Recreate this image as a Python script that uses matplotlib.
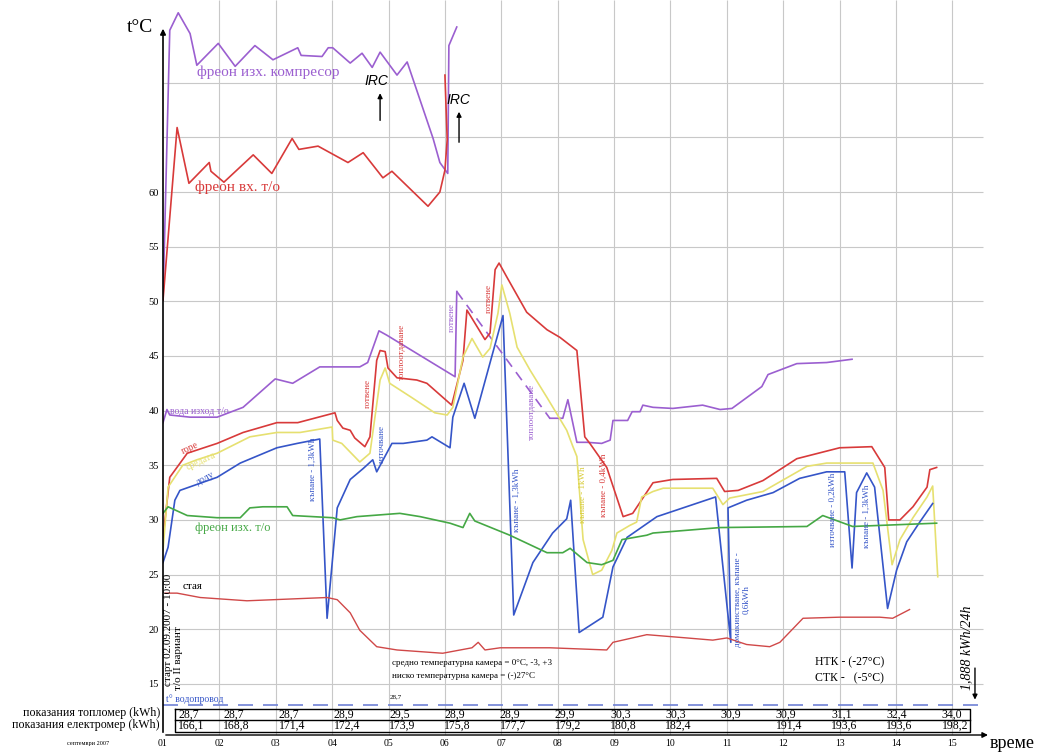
import numpy as np
import matplotlib.pyplot as plt

plt.rcParams['font.family'] = ['Liberation Serif', 'DejaVu Serif']

# --- data (x = day of September, y = t°C) ---
days = list(range(1, 16))
day_labels = ['%02d' % d for d in days]

comp_x = [1.0, 1.12, 1.27, 1.48, 1.60, 1.98, 2.28, 2.63, 2.95, 3.39, 3.45, 3.82, 3.93, 4.01,
          4.32, 4.53, 4.71, 4.85, 5.15, 5.33, 5.79, 5.91, 6.05, 6.07, 6.21]
comp_y = [50.1, 74.8, 76.4, 74.5, 71.6, 73.6, 71.5, 73.4, 72.1, 73.2, 72.5, 72.4, 73.2, 73.2,
          71.8, 72.7, 71.4, 72.8, 70.7, 71.9, 64.9, 62.7, 61.7, 73.4, 75.1]

frin_x = [1.0, 1.25, 1.46, 1.82, 1.85, 2.08, 2.60, 2.93, 3.29, 3.41, 3.75, 4.28, 4.55, 4.90,
          5.06, 5.70, 5.91, 6.00, 6.04, 6.00]
frin_y = [50.1, 65.9, 60.8, 62.7, 61.9, 60.9, 63.4, 61.7, 64.9, 63.9, 64.2, 62.7, 63.6, 61.3,
          61.9, 58.7, 60.0, 62.0, 64.8, 70.7]

water_a_x = [1.0, 1.07, 1.12, 1.48, 1.96, 2.42, 2.99, 3.30, 3.78, 4.49, 4.63, 4.83, 4.97, 6.18, 6.21]
water_a_y = [38.9, 40.1, 39.6, 39.4, 39.4, 40.3, 42.9, 42.5, 44.0, 44.0, 44.4, 47.3, 46.9, 43.1, 50.9]
water_b_x = [7.86, 8.09, 8.18, 8.34, 8.52, 8.78, 8.93, 8.98, 9.24, 9.32, 9.46, 9.51, 9.69, 10.04,
             10.57, 10.88, 11.09, 11.62, 11.73, 12.24, 12.77, 13.22]
water_b_y = [39.3, 39.3, 41.0, 37.1, 37.1, 37.0, 37.3, 39.1, 39.1, 39.9, 39.9, 40.5, 40.3, 40.2,
             40.5, 40.1, 40.2, 42.2, 43.3, 44.3, 44.4, 44.7]

top_x = [1.0, 1.12, 1.43, 1.96, 2.42, 3.02, 3.39, 4.05, 4.09, 4.19, 4.32, 4.40, 4.58, 4.67,
         4.79, 4.85, 4.94, 4.99, 5.15, 5.50, 5.68, 6.12, 6.32, 6.39, 6.71, 6.80, 6.89, 6.96,
         7.10, 7.45, 7.81, 8.04, 8.34, 8.48, 8.57, 8.87, 9.16, 9.33, 9.69, 10.04, 10.82, 10.96,
         11.20, 11.64, 12.24, 13.00, 13.57, 13.80, 13.87, 14.07, 14.30, 14.55, 14.60, 14.72]
top_y = [28.4, 33.9, 36.1, 37.0, 38.0, 38.9, 38.9, 39.8, 39.1, 38.4, 38.2, 37.5, 36.7, 37.6,
         44.6, 45.5, 45.4, 43.9, 43.0, 42.8, 42.5, 40.5, 44.6, 49.2, 46.5, 47.1, 52.9, 53.5,
         52.2, 49.0, 47.4, 46.7, 45.5, 37.6, 37.0, 34.8, 30.3, 30.6, 33.4, 33.7, 33.8, 32.6,
         32.7, 33.6, 35.6, 36.6, 36.7, 34.8, 30.0, 30.0, 31.2, 33.0, 34.6, 34.8]

mid_x = [1.0, 1.09, 1.35, 1.60, 1.96, 2.54, 3.02, 3.43, 4.00, 4.01, 4.17, 4.49, 4.67, 4.85,
         4.94, 5.02, 5.41, 5.82, 6.04, 6.14, 6.32, 6.48, 6.67, 6.80, 6.94, 7.01, 7.15, 7.28,
         7.51, 7.81, 8.16, 8.27, 8.34, 8.45, 8.62, 8.78, 8.96, 9.05, 9.28, 9.40, 9.49, 9.69,
         9.87, 10.75, 10.93, 11.05, 11.64, 12.42, 12.77, 13.59, 13.77, 13.93, 14.07, 14.30,
         14.55, 14.65, 14.74]
mid_y = [27.2, 33.0, 35.0, 35.5, 36.1, 37.6, 38.0, 38.0, 38.5, 37.3, 37.0, 35.3, 36.1, 42.8,
         43.9, 42.5, 41.2, 39.8, 39.6, 40.3, 44.9, 46.6, 44.9, 45.7, 48.9, 51.5, 48.9, 45.8,
         43.7, 41.2, 38.2, 36.7, 35.8, 28.2, 25.0, 25.4, 27.2, 28.8, 29.5, 29.8, 32.1, 32.6,
         32.9, 32.9, 31.4, 32.0, 32.6, 34.9, 35.2, 35.2, 32.7, 25.9, 28.2, 30.2,
         32.1, 33.1, 24.8]

bot_x = [1.0, 1.09, 1.21, 1.30, 1.96, 2.37, 3.02, 3.38, 3.78, 3.91, 4.09, 4.32, 4.55, 4.72,
         4.79, 5.06, 5.26, 5.68, 5.77, 6.09, 6.14, 6.34, 6.53, 7.03, 7.22, 7.56, 7.91, 8.16,
         8.23, 8.38, 8.80, 8.98, 9.23, 9.76, 10.80, 11.07, 11.02, 11.35, 11.82, 12.29, 12.77,
         13.09, 13.22, 13.30, 13.48, 13.62, 13.85, 14.01, 14.19, 14.42, 14.65]
bot_y = [26.1, 27.5, 31.8, 32.7, 33.9, 35.2, 36.6, 37.0, 37.4, 21.0, 31.1, 33.7, 34.7, 35.5,
         34.4, 37.0, 37.0, 37.3, 37.6, 36.6, 39.4, 42.5, 39.3, 48.7, 21.3, 26.1, 28.8, 30.1,
         31.8, 19.7, 21.1, 25.7, 28.4, 30.3, 32.1, 18.8, 31.1, 31.8, 32.5, 33.8, 34.4,
         34.4, 25.6, 32.5, 34.3, 33.0, 21.9, 25.4, 28.0, 29.8, 31.5]

frout_x = [1.0, 1.09, 1.43, 1.96, 2.37, 2.54, 2.77, 3.20, 3.30, 4.01, 4.14, 4.44, 5.20, 5.56,
           6.09, 6.32, 6.44, 6.53, 7.15, 7.81, 8.09, 8.22, 8.52, 8.78, 8.98, 9.14, 9.58, 9.69,
           10.88, 12.42, 12.70, 13.23, 14.72]
frout_y = [30.6, 31.2, 30.4, 30.2, 30.2, 31.1, 31.2, 31.2, 30.4, 30.2, 30.0, 30.3, 30.6, 30.3,
           29.7, 29.3, 30.6, 29.9, 28.6, 27.0, 27.0, 27.4, 26.1, 25.9, 26.3, 28.2, 28.6, 28.8,
           29.3, 29.4, 30.4, 29.4, 29.7]

room_x = [1.04, 1.25, 1.66, 2.49, 3.43, 3.91, 4.09, 4.32, 4.49, 4.79, 5.15, 5.96, 6.48, 6.59,
          6.71, 6.98, 7.86, 8.87, 8.98, 9.58, 10.29, 10.75, 11.00, 11.35, 11.76, 11.94, 12.35,
          13.00, 13.71, 13.94, 14.24]
room_y = [23.3, 23.3, 22.9, 22.6, 22.8, 22.9, 22.7, 21.5, 19.9, 18.4, 18.1, 17.8, 18.3, 18.8,
          18.1, 18.3, 18.3, 18.1, 18.8, 19.5, 19.2, 19.0, 19.2, 18.6, 18.4, 18.8, 21.0,
          21.1, 21.1, 21.0, 21.8]

tap_water_t = 13.07

heat_meter = ['28,7', '28,7', '28,7', '28,9', '29,5', '28,9', '28,9', '29,9', '30,3', '30,3',
              '30,9', '30,9', '31,1', '32,4', '34,0']
el_meter = ['166,1', '168,8', '171,4', '172,4', '173,9', '175,8', '177,7', '179,2', '180,8',
            '182,4', '', '191,4', '193,6', '193,6', '198,2']

# --- figure ---
PURPLE = '#9b5fd0'
RED = '#d83a3a'
YELLOW = '#e6e070'
BLUE = '#3555c8'
GREEN = '#45a845'

fig = plt.figure(figsize=(10.37, 7.52), dpi=100)
ax = fig.add_axes([163 / 1037, 17 / 752, 1 - 163 / 1037, 735 / 752])
ymin, ymax = 10.32, 77.57
ax.set_xlim(1, 16.5)
ax.set_ylim(ymin, ymax)
for s in ax.spines.values():
    s.set_visible(False)

# grid
ax.hlines(np.arange(15, 71, 5), 1, 15.54, color='#c8c8c8', lw=0.8, zorder=0)
ax.vlines(days[1:], ymin, ymax, color='#c8c8c8', lw=0.8, zorder=0)

ax.set_yticks(np.arange(15, 61, 5))
ax.set_yticklabels([str(v) for v in range(15, 61, 5)], fontsize=7.5)
ax.set_xticks(days)
ax.set_xticklabels(day_labels, fontsize=7)
ax.tick_params(length=0, pad=3)

# axes arrows
ax.annotate('', xy=(1, 75.2), xytext=(1, ymin),
            arrowprops=dict(arrowstyle='-|>', color='black', lw=1.2, mutation_scale=8))
ax.annotate('', xy=(15.68, ymin), xytext=(1, ymin),
            arrowprops=dict(arrowstyle='-|>', color='black', lw=1.0, mutation_scale=8),
            annotation_clip=False)

lw = 1.2
ax.plot(comp_x, comp_y, color=PURPLE, lw=lw)
ax.plot(frin_x, frin_y, color=RED, lw=lw)
ax.plot(water_a_x, water_a_y, color=PURPLE, lw=lw)
ax.plot([water_a_x[-1], water_b_x[0]], [water_a_y[-1], water_b_y[0]], color=PURPLE, lw=lw,
        dashes=(6, 4))
ax.plot(water_b_x, water_b_y, color=PURPLE, lw=lw)
ax.plot(top_x, top_y, color=RED, lw=lw)
ax.plot(mid_x, mid_y, color=YELLOW, lw=lw)
ax.plot(bot_x, bot_y, color=BLUE, lw=lw)
ax.plot(frout_x, frout_y, color=GREEN, lw=lw)
ax.plot(room_x, room_y, color='#d04848', lw=1.0)
ax.plot([1, 15.6], [tap_water_t, tap_water_t], color='#6f82d6', lw=1.2, dashes=(9, 6))

# series labels
ax.text(1.60, 71.0, 'фреон изх. компресор', color=PURPLE, fontsize=11, va='center')
ax.text(1.57, 60.4, 'фреон вх. т/о', color=RED, fontsize=11, va='center')
ax.text(1.12, 39.9, 'вода изход т/о', color=PURPLE, fontsize=7, va='center')
ax.text(1.48, 36.6, 'горе', color=RED, fontsize=7, rotation=25, ha='center', va='center')
ax.text(1.68, 35.4, 'средата', color=YELLOW, fontsize=7, rotation=25, ha='center', va='center')
ax.text(1.76, 33.8, 'долу', color=BLUE, fontsize=7, rotation=28, ha='center', va='center')
ax.text(1.57, 29.3, 'фреон изх. т/о', color=GREEN, fontsize=9, va='center')
ax.text(1.35, 23.9, 'стая', color='black', fontsize=8, va='center')
ax.text(1.05, 13.6, 't° водопровод', color=BLUE, fontsize=7, va='center')
ax.text(5.02, 13.8, '28,7', color='black', fontsize=5, va='center')

# IRC marks
ax.text(4.78, 70.2, 'IRC', fontsize=10, style='italic', ha='center', va='center',
        family='Liberation Sans')
ax.annotate('', xy=(4.85, 69.3), xytext=(4.85, 66.3),
            arrowprops=dict(arrowstyle='-|>', color='black', lw=1.0, mutation_scale=7))
ax.text(6.23, 68.4, 'IRC', fontsize=10, style='italic', ha='center', va='center',
        family='Liberation Sans')
ax.annotate('', xy=(6.25, 67.6), xytext=(6.25, 64.3),
            arrowprops=dict(arrowstyle='-|>', color='black', lw=1.0, mutation_scale=7))

# event notes (rotated)
notes = [
    (3.66, 34.6, 'къпане - 1,3kWh', BLUE),
    (4.88, 36.9, 'източване', BLUE),
    (4.63, 41.6, 'готвене', RED),
    (5.24, 45.4, 'топлоотдаване', RED),
    (6.12, 48.5, 'готвене', PURPLE),
    (6.78, 50.3, 'готвене', RED),
    (7.54, 39.9, 'топлоотдаване', PURPLE),
    (7.28, 31.8, 'къпане - 1,3kWh', BLUE),
    (8.45, 32.3, 'къпане - 1kWh', '#d8cc3a'),
    (8.82, 33.2, 'къпане - 0,4kWh', RED),
    (11.27, 22.7, 'домакинстване, къпане -\n0,6kWh', BLUE),
    (12.88, 30.9, 'източване - 0,2kWh', BLUE),
    (13.48, 30.3, 'къпане - 1,3kWh', BLUE),
]
for x, y, txt, c in notes:
    ax.text(x, y, txt, color=c, fontsize=6.5, rotation=90, ha='center', va='center',
            linespacing=1.1)

ax.text(1.09, 14.8, 'старт 02.09.2007 - 10:00', fontsize=8, rotation=90,
        rotation_mode='anchor', ha='left', va='center')
ax.text(1.27, 14.4, 'т/о II вариант', fontsize=8, rotation=90,
        rotation_mode='anchor', ha='left', va='center')

ax.text(5.06, 16.9, 'средно температурна камера = 0°C, -3, +3', fontsize=6.5, va='center')
ax.text(5.06, 15.7, 'ниско температурна камера = (-)27°C', fontsize=6.5, va='center')
ax.text(12.56, 17.0, 'НТК - (-27°C)', fontsize=8.5, va='center')
ax.text(12.56, 15.5, 'СТК -   (-5°C)', fontsize=8.5, va='center')

ax.text(15.26, 14.4, '1,888 kWh/24h', fontsize=10, style='italic', rotation=90,
        rotation_mode='anchor', ha='left', va='center')
ax.annotate('', xy=(15.4, 13.3), xytext=(15.4, 16.7),
            arrowprops=dict(arrowstyle='-|>', color='black', lw=1.0, mutation_scale=7))

# meter table
t_top, t_mid, t_bot = 12.70, 11.69, 10.60
x0, x1 = 1.21, 15.31
ax.plot([x0, x1, x1, x0, x0], [t_top, t_top, t_bot, t_bot, t_top], color='black', lw=1.0)
ax.plot([x0, x1], [t_mid, t_mid], color='black', lw=1.0)
for d, hv, ev in zip(days, heat_meter, el_meter):
    # the hand-drawn columns drift left of the grid towards the right end
    xp = 1.27 if d == 1 else d + 0.07 - 0.02 * (d - 2)
    ax.text(xp, (t_top + t_mid) / 2, hv, fontsize=8.5, va='center')
    ax.text(xp, (t_mid + t_bot) / 2, ev, fontsize=8.5, va='center')

fig.text(160 / 1037, 1 - 713 / 752, 'показания топломер (kWh)', fontsize=8.6, ha='right',
         va='center')
fig.text(160 / 1037, 1 - 725 / 752, 'показания електромер (kWh)', fontsize=8.6, ha='right',
         va='center')
fig.text(88 / 1037, 1 - 743 / 752, 'септември 2007', fontsize=4.5, ha='center', va='center')
fig.text(140 / 1037, 1 - 28 / 752, 't°C', fontsize=14, ha='center', va='center')
fig.text(1012 / 1037, 1 - 744 / 752, 'време', fontsize=13, ha='center', va='center')

fig.savefig('out.png', dpi=100)
